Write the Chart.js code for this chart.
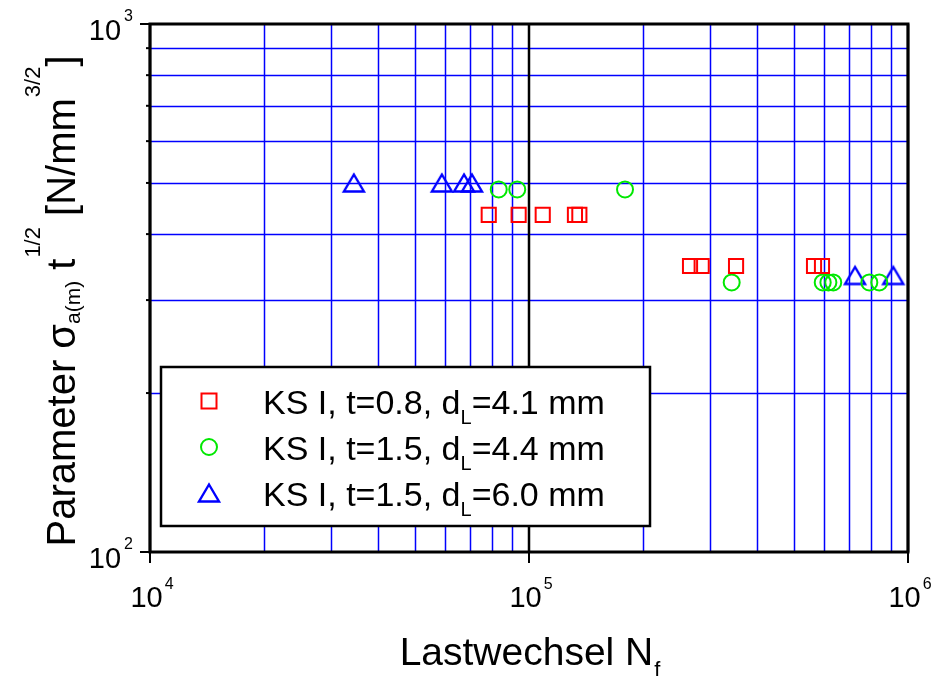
<!DOCTYPE html>
<html>
<head>
<meta charset="utf-8">
<script src="https://cdn.jsdelivr.net/npm/chart.js@4.4.0/dist/chart.umd.min.js"></script>
<style>
  html, body { margin: 0; padding: 0; background: #ffffff; }
  canvas { display: block; }
</style>
</head>
<body>
<canvas id="chart" width="949" height="676"></canvas>
<script>
// ---- data: cycles to failure N_f and stress parameter ----
const ks08_N = [78300, 93900, 108700, 132200, 135800, 266000, 285500, 351800, 565000, 593000];
const ks08_S = [435, 435, 435, 435, 435, 348, 348, 348, 348, 348];

const ks15a_N = [83200, 93100, 179200, 342600, 595600, 616500, 635000, 790600, 840000];
const ks15a_S = [486, 486, 486, 324, 324, 324, 324, 324, 324];

const ks15b_N = [34500, 58900, 67400, 70700, 724900, 914500];
const ks15b_S = [500, 500, 500, 500, 334, 334];

// legend entries: main text, subscript, trailing text
const legendMain = ['KS I, t=0.8, d', 'KS I, t=1.5, d', 'KS I, t=1.5, d'];
const legendSub = ['L', 'L', 'L'];
const legendTail = ['=4.1 mm', '=4.4 mm', '=6.0 mm'];

// axis ticks
const xMajor = [1e4, 1e5, 1e6];
const xMajorExp = ['4', '5', '6'];
const xMinor = [2e4, 3e4, 4e4, 5e4, 6e4, 7e4, 8e4, 9e4, 2e5, 3e5, 4e5, 5e5, 6e5, 7e5, 8e5, 9e5];
const yMajor = [100, 1000];
const yMajorExp = ['2', '3'];
const yMinor = [200, 300, 400, 500, 600, 700, 800, 900];

const FONT = '"Liberation Sans", Arial, Helvetica, sans-serif';
const RED = '#ff0000', GREEN = '#00e800', BLUE = '#0000ff';

function toPoints(xs, ys) { return xs.map((x, i) => ({ x: x, y: ys[i] })); }

// triangle marker centred on its bounding box
function triangleImage(color, w, h, lw) {
  const c = document.createElement('canvas');
  c.width = 30; c.height = 30;
  const g = c.getContext('2d');
  g.strokeStyle = color; g.lineWidth = lw; g.lineJoin = 'miter';
  g.beginPath();
  g.moveTo(15, 15 - h / 2);
  g.lineTo(15 + w / 2, 15 + h / 2);
  g.lineTo(15 - w / 2, 15 + h / 2);
  g.closePath();
  g.stroke();
  return c;
}
const triImg = triangleImage(BLUE, 20, 17, 2.4);

// text made of runs (size, vertical offset) for super/subscripts
function runsWidth(ctx, runs) {
  let w = 0;
  for (const r of runs) { ctx.font = r.size + 'px ' + FONT; w += ctx.measureText(r.t).width + (r.gap || 0); }
  return w;
}
function drawRuns(ctx, x, y, runs, align) {
  const w = runsWidth(ctx, runs);
  let cx = align === 'center' ? x - w / 2 : (align === 'right' ? x - w : x);
  ctx.textAlign = 'left';
  ctx.textBaseline = 'alphabetic';
  for (const r of runs) {
    ctx.font = r.size + 'px ' + FONT;
    ctx.fillText(r.t, cx, y + (r.dy || 0));
    cx += ctx.measureText(r.t).width + (r.gap || 0);
  }
}

function line(ctx, x1, y1, x2, y2) { ctx.beginPath(); ctx.moveTo(x1, y1); ctx.lineTo(x2, y2); ctx.stroke(); }

const gridPlugin = {
  id: 'logGrid',
  beforeDatasetsDraw(chart) {
    const { ctx, chartArea: a, scales: { x, y } } = chart;
    ctx.save();
    ctx.strokeStyle = BLUE; ctx.lineWidth = 1.5;
    for (const v of xMinor) { const px = Math.round(x.getPixelForValue(v)) + 0.5; line(ctx, px, a.top, px, a.bottom); }
    for (const v of yMinor) { const py = Math.round(y.getPixelForValue(v)) + 0.5; line(ctx, a.left, py, a.right, py); }
    ctx.strokeStyle = '#000'; ctx.lineWidth = 2.5;
    for (const v of xMajor) { const px = x.getPixelForValue(v); line(ctx, px, a.top, px, a.bottom); }
    ctx.restore();
  },
  afterDatasetsDraw(chart) {
    const { ctx, chartArea: a, scales: { x, y } } = chart;
    ctx.save();
    // frame
    ctx.strokeStyle = '#000'; ctx.lineWidth = 3;
    ctx.strokeRect(a.left, a.top, a.right - a.left, a.bottom - a.top);
    // ticks
    ctx.lineWidth = 2;
    for (const v of yMajor) { const py = y.getPixelForValue(v); line(ctx, a.left - 10, py, a.left, py); }
    for (const v of yMinor) { const py = y.getPixelForValue(v); line(ctx, a.left - 4, py, a.left, py); }
    for (const v of xMajor) { const px = x.getPixelForValue(v); line(ctx, px, a.bottom, px, a.bottom + 11); }

    ctx.fillStyle = '#000';
    // x tick labels
    xMajor.forEach((v, i) => {
      const px = x.getPixelForValue(v);
      drawRuns(ctx, px + 2, a.bottom + 55, [
        { t: '10', size: 29, gap: 2 },
        { t: xMajorExp[i], size: 16, dy: -18 }
      ], 'center');
    });
    // y tick labels
    yMajor.forEach((v, i) => {
      const py = y.getPixelForValue(v);
      drawRuns(ctx, 133, py + 15.5, [
        { t: '10', size: 29, gap: 3 },
        { t: yMajorExp[i], size: 16, dy: -18.5 }
      ], 'right');
    });

    // x axis title
    drawRuns(ctx, 530, 665, [
      { t: 'Lastwechsel N', size: 39, gap: 1 },
      { t: 'f', size: 22, dy: 12 }
    ], 'center');

    // y axis title (rotated)
    ctx.save();
    ctx.translate(75, 301);
    ctx.rotate(-Math.PI / 2);
    drawRuns(ctx, 0, 0, [
      { t: 'Parameter \u03c3', size: 40 },
      { t: 'a(m)', size: 21, dy: 5 },
      { t: ' t', size: 40, gap: 1 },
      { t: '1/2', size: 22, dy: -35 },
      { t: ' [N/mm', size: 40, gap: 1 },
      { t: '3/2', size: 22, dy: -35 },
      { t: ']', size: 40 }
    ], 'center');
    ctx.restore();

    // legend box
    const lx = 161, ly = 367, lw = 489, lh = 159;
    ctx.fillStyle = '#fff';
    ctx.fillRect(lx, ly, lw, lh);
    ctx.strokeStyle = '#000'; ctx.lineWidth = 2.5;
    ctx.strokeRect(lx, ly, lw, lh);

    const rowY = [401, 447, 493];
    // square
    ctx.lineWidth = 2;
    ctx.strokeStyle = RED;
    ctx.strokeRect(209 - 7.5, rowY[0] - 7.5, 15, 15);
    // circle
    ctx.strokeStyle = GREEN;
    ctx.beginPath(); ctx.arc(209, rowY[1], 8, 0, Math.PI * 2); ctx.stroke();
    // triangle
    ctx.drawImage(triImg, 209 - 15, rowY[2] - 15);

    ctx.fillStyle = '#000';
    legendMain.forEach((m, i) => {
      drawRuns(ctx, 263, rowY[i] + 13, [
        { t: m, size: 34 },
        { t: legendSub[i], size: 20, dy: 10 },
        { t: legendTail[i], size: 34 }
      ], 'left');
    });
    ctx.restore();
  }
};

new Chart(document.getElementById('chart'), {
  type: 'scatter',
  data: {
    datasets: [
      {
        label: 'KS I, t=0.8, dL=4.1 mm',
        data: toPoints(ks08_N, ks08_S),
        pointStyle: 'rect', pointRadius: 10, borderWidth: 2,
        borderColor: RED, backgroundColor: 'rgba(0,0,0,0)'
      },
      {
        label: 'KS I, t=1.5, dL=4.4 mm',
        data: toPoints(ks15a_N, ks15a_S),
        pointStyle: 'circle', pointRadius: 8, borderWidth: 2,
        borderColor: GREEN, backgroundColor: 'rgba(0,0,0,0)'
      },
      {
        label: 'KS I, t=1.5, dL=6.0 mm',
        data: toPoints(ks15b_N, ks15b_S),
        pointStyle: triImg, pointRadius: 12,
        borderColor: BLUE, backgroundColor: 'rgba(0,0,0,0)'
      }
    ]
  },
  options: {
    responsive: false,
    animation: false,
    events: [],
    layout: { padding: { top: 24, right: 41, left: 0, bottom: 0 } },
    plugins: { legend: { display: false }, tooltip: { enabled: false } },
    scales: {
      x: {
        type: 'logarithmic', min: 1e4, max: 1e6,
        ticks: { display: false }, grid: { display: false, drawTicks: false }, border: { display: false },
        afterFit(s) { s.height = 124; }
      },
      y: {
        type: 'logarithmic', min: 100, max: 1000,
        ticks: { display: false }, grid: { display: false, drawTicks: false }, border: { display: false },
        afterFit(s) { s.width = 150; }
      }
    }
  },
  plugins: [gridPlugin]
});
</script>
</body>
</html>
